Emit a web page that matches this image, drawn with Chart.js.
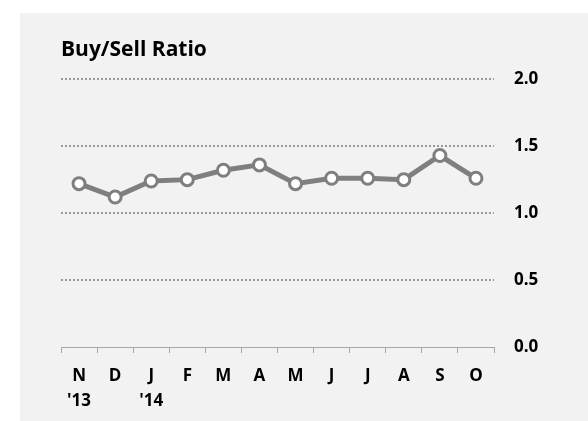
<!DOCTYPE html>
<html>
<head>
<meta charset="utf-8">
<script src="https://cdn.jsdelivr.net/npm/chart.js@4/dist/chart.umd.min.js"></script>
<style>
    body { margin: 0; background: #ffffff; }
    #panel { position: absolute; left: 20px; top: 13px; width: 568px; height: 408px; background: #f2f2f2; }
</style>
</head>
<body>
<div id="panel"><canvas id="ratioChart" width="568" height="408"></canvas></div>
<script>
const months = ['N', 'D', 'J', 'F', 'M', 'A', 'M', 'J', 'J', 'A', 'S', 'O'];
const years = ["'13", '', "'14", '', '', '', '', '', '', '', '', ''];
const ratios = [1.22, 1.12, 1.24, 1.25, 1.32, 1.36, 1.22, 1.26, 1.26, 1.25, 1.43, 1.26];
const yTicks = [0, 0.5, 1.0, 1.5, 2.0];

const labels = months.map((m, i) => years[i] ? [m, years[i]] : [m]);
const lineGray = '#7f7f7f';
const font = "'Open Sans', 'Noto Sans', sans-serif";

const ctx = document.getElementById('ratioChart').getContext('2d');
const ratioChart = new Chart(ctx, {
    type: 'line',
    data: {
        labels: labels,
        datasets: [{
            label: 'Buy/Sell Ratio',
            data: ratios,
            borderColor: lineGray,
            borderWidth: 5,
            tension: 0,
            pointRadius: 6,
            pointBorderWidth: 3,
            pointBackgroundColor: '#ffffff',
            pointBorderColor: lineGray
        }]
    },
    options: {
        responsive: false,
        animation: false,
        layout: { padding: { left: 41, top: 10, right: 0, bottom: 0 } },
        plugins: {
            legend: { display: false },
            tooltip: { enabled: false },
            title: {
                display: true,
                text: 'Buy/Sell Ratio',
                align: 'start',
                color: '#000000',
                font: { family: font, size: 21, weight: 'bold', lineHeight: 1.2 },
                padding: { top: 14, bottom: 17 }
            }
        },
        scales: {
            x: {
                offset: true,
                grid: {
                    offset: true,
                    drawOnChartArea: false,
                    drawTicks: true,
                    tickLength: 6,
                    color: '#a6a6a6'
                },
                border: { display: true, color: '#a6a6a6', width: 1 },
                ticks: {
                    color: '#000000',
                    padding: 10,
                    maxRotation: 0,
                    autoSkip: false,
                    font: { family: font, size: 17, weight: 'bold', lineHeight: 1.5 }
                },
                afterFit: (scale) => { scale.height = 74; }
            },
            y: {
                position: 'right',
                min: 0,
                max: 2,
                afterBuildTicks: (scale) => { scale.ticks = yTicks.map(v => ({ value: v })); },
                grid: {
                    drawTicks: false,
                    color: (c) => c.tick && c.tick.value === 0 ? 'rgba(0,0,0,0)' : '#999999',
                    lineWidth: 2
                },
                border: { display: false, dash: [2, 2] },
                ticks: {
                    color: '#000000',
                    padding: 20,
                    font: { family: font, size: 17, weight: 'bold' },
                    callback: (v) => Number(v).toFixed(1)
                },
                afterFit: (scale) => { scale.width = 94; }
            }
        }
    }
});
</script>
</body>
</html>
